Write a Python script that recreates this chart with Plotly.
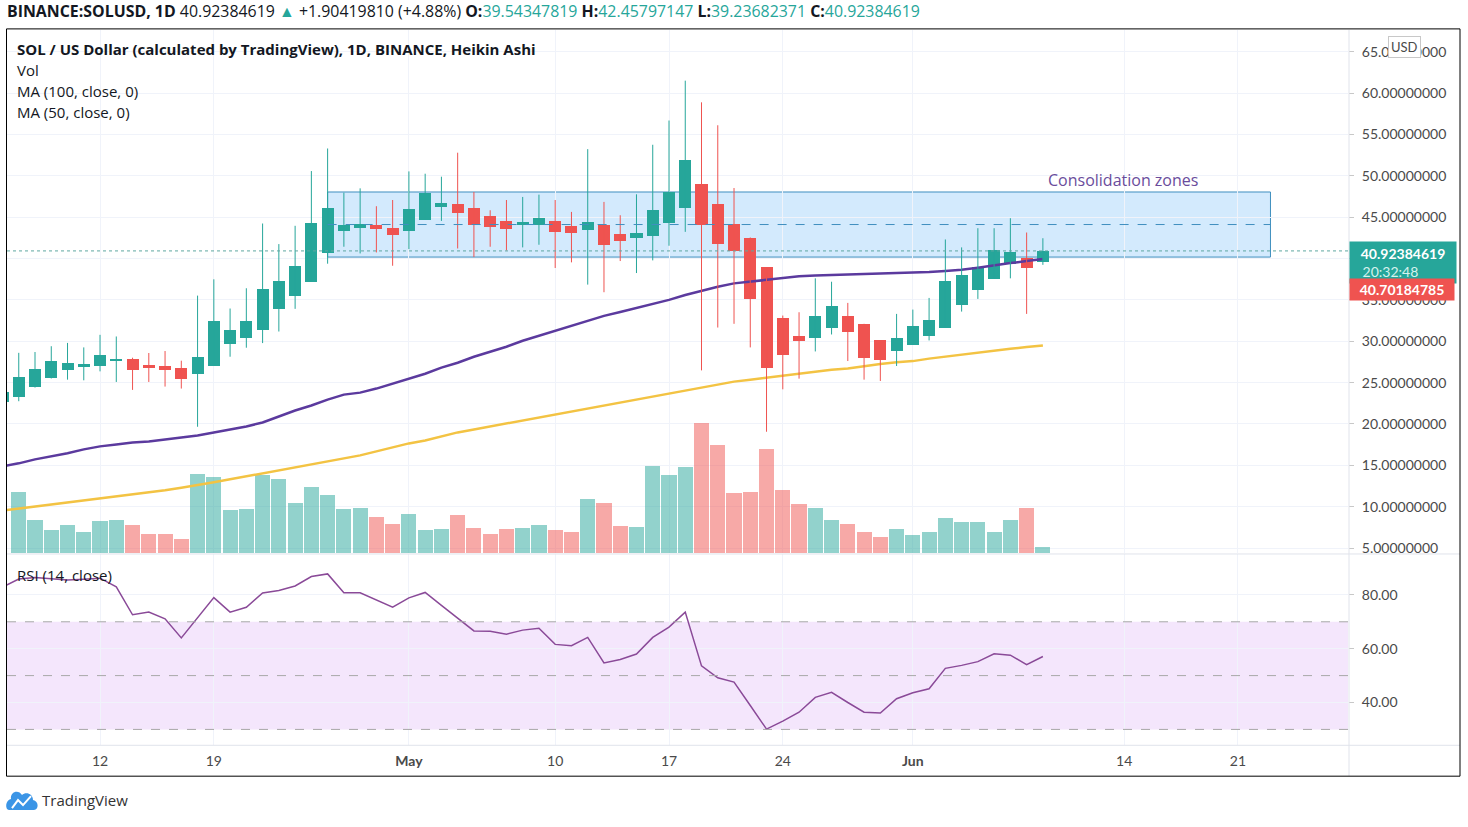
import plotly.graph_objects as go
import pandas as pd

W, H = 1468, 827

# daily Heikin Ashi candles, 2021-04-06 .. 2021-06-09
dates = pd.date_range("2021-04-06", "2021-06-09", freq="D")

ha_open = [22.70, 23.23, 24.44, 25.52, 26.48, 26.96, 27.08, 27.65, 27.89, 27.17,
           27.05, 26.81, 26.08, 27.08, 29.74, 30.46, 31.42, 33.92, 35.52, 37.20,
           40.70, 43.35, 43.71, 44.08, 43.76, 43.35, 44.72, 46.29, 46.57, 46.08,
           45.12, 44.52, 44.04, 44.12, 44.52, 43.92, 43.51, 44.08, 42.95, 42.50,
           42.75, 44.28, 46.16, 48.98, 46.57, 44.16, 42.55, 38.94, 32.80, 30.66,
           30.38, 31.66, 33.07, 32.11, 30.14, 28.89, 29.62, 30.70, 31.66, 34.40,
           36.24, 37.53, 39.30, 40.06, 39.54]
ha_high = [24.40, 28.60, 28.70, 29.40, 29.80, 29.26, 30.78, 30.58, 28.01, 28.58,
           28.82, 27.65, 35.52, 37.49, 33.96, 36.41, 44.24, 41.75, 43.96, 50.58,
           53.31, 47.97, 48.49, 46.33, 47.08, 50.54, 50.26, 49.90, 52.80, 48.05,
           45.84, 47.08, 47.45, 47.73, 47.08, 45.64, 53.23, 46.85, 45.24, 47.77,
           53.76, 56.69, 61.51, 58.89, 56.12, 48.53, 42.55, 38.94, 33.11, 33.51,
           37.61, 37.20, 34.64, 32.11, 30.14, 33.31, 33.83, 35.24, 42.31, 41.35,
           43.67, 43.67, 44.88, 43.15, 42.46]
ha_low = [22.30, 22.75, 24.40, 25.50, 25.36, 25.28, 26.36, 25.08, 24.12, 25.08,
          24.52, 24.28, 19.66, 27.08, 28.13, 29.22, 29.78, 31.18, 33.92, 37.20,
          39.38, 41.43, 40.62, 40.74, 39.13, 41.14, 44.72, 44.55, 41.22, 40.18,
          41.43, 40.98, 41.35, 41.67, 38.86, 39.54, 36.85, 35.93, 39.70, 38.25,
          39.78, 41.55, 43.23, 26.48, 31.66, 32.11, 29.26, 19.06, 24.19, 25.48,
          28.77, 30.82, 27.61, 25.36, 25.20, 27.01, 29.62, 30.10, 31.66, 33.59,
          35.12, 37.53, 37.61, 33.31, 39.24]
ha_close = [23.90, 25.72, 26.69, 27.65, 27.41, 27.25, 28.37, 27.89, 26.48, 26.81,
            26.48, 25.40, 28.13, 32.47, 31.39, 32.47, 36.33, 37.29, 39.10, 44.28,
            46.08, 44.12, 44.24, 43.59, 42.87, 46.04, 47.97, 46.77, 45.57, 44.04,
            43.88, 43.59, 44.40, 44.88, 43.23, 43.11, 44.44, 41.67, 42.11, 43.07,
            45.92, 48.01, 51.90, 44.08, 41.83, 40.94, 35.16, 26.77, 28.30, 30.10,
            33.03, 34.28, 31.18, 28.05, 27.77, 30.38, 31.87, 32.59, 37.29, 37.97,
            38.94, 41.02, 40.78, 38.90, 40.92]

# volume (millions, estimated)
volume_m = [None, 6.1, 3.3, 2.3, 2.8, 2.1, 3.2, 3.3, 2.8, 1.9,
            1.9, 1.4, 7.9, 7.6, 4.3, 4.4, 7.8, 7.4, 5.0, 6.6,
            5.8, 4.4, 4.5, 3.6, 2.9, 3.9, 2.3, 2.4, 3.8, 2.5,
            1.9, 2.4, 2.5, 2.8, 2.3, 2.1, 5.4, 5.0, 2.7, 2.6,
            8.7, 7.8, 8.6, 13.1, 10.8, 6.0, 6.1, 10.4, 6.3, 4.9,
            4.5, 3.3, 2.9, 2.1, 1.6, 2.4, 1.8, 2.1, 3.5, 3.1,
            3.1, 2.1, 3.3, 4.5, 0.6]

ma50 = [14.88, 15.24, 15.72, 16.08, 16.45, 16.93, 17.29, 17.53, 17.77, 17.89,
        18.13, 18.37, 18.61, 18.98, 19.34, 19.70, 20.18, 20.90, 21.63, 22.23,
        22.95, 23.55, 23.79, 24.28, 24.88, 25.48, 26.08, 26.81, 27.41, 28.13,
        28.73, 29.34, 30.06, 30.66, 31.27, 31.87, 32.47, 33.07, 33.55, 34.04,
        34.55, 35.00, 35.60, 36.10, 36.60, 37.00, 37.20, 37.41, 37.60, 37.85,
        37.95, 38.01, 38.05, 38.13, 38.18, 38.22, 38.25, 38.37, 38.50, 38.65,
        38.90, 39.20, 39.45, 39.70, 39.95]
ma100 = [9.52, 9.76, 10.06, 10.30, 10.54, 10.78, 11.02, 11.27, 11.51, 11.75,
         11.99, 12.29, 12.59, 12.95, 13.31, 13.67, 14.04, 14.40, 14.76, 15.12,
         15.48, 15.84, 16.20, 16.69, 17.17, 17.65, 18.01, 18.49, 18.98, 19.34,
         19.70, 20.06, 20.42, 20.78, 21.14, 21.51, 21.87, 22.23, 22.59, 22.95,
         23.31, 23.67, 24.04, 24.40, 24.76, 25.12, 25.36, 25.60, 25.84, 26.10,
         26.35, 26.55, 26.70, 27.00, 27.25, 27.45, 27.60, 27.90, 28.15, 28.40,
         28.65, 28.90, 29.10, 29.30, 29.50]
rsi14 = [82.9, 85.9, 86.5, 86.0, 85.5, 85.8, 86.2, 83.0, 72.6, 73.6,
         71.1, 64.0, 71.5, 79.0, 73.6, 75.4, 80.7, 81.6, 83.3, 86.8,
         87.8, 80.8, 80.8, 78.1, 75.4, 78.9, 80.9, 76.1, 71.5, 66.6,
         66.5, 65.4, 66.9, 67.6, 61.6, 61.1, 64.2, 54.7, 56.0, 58.0,
         64.2, 68.0, 73.6, 53.6, 49.2, 47.6, 38.9, 30.1, 33.1, 36.4,
         41.9, 43.8, 40.0, 36.4, 36.1, 41.4, 43.6, 45.1, 52.7, 53.8,
         55.2, 58.1, 57.6, 54.1, 57.1]

price_ticks = [5, 10, 15, 20, 25, 30, 35, 40, 45, 50, 55, 60, 65]
rsi_ticks = [40, 60, 80]
date_ticks = ["2021-04-12", "2021-04-19", "2021-05-01", "2021-05-10", "2021-05-17",
              "2021-05-24", "2021-06-01", "2021-06-14", "2021-06-21"]
date_labels = ["12", "19", "<b>May</b>", "10", "17", "24", "<b>Jun</b>", "14", "21"]

last_price = 40.92384619
real_price = 40.70184785
zone_start, zone_end = "2021-04-26", "2021-06-23"
zone_low, zone_high = 40.18, 48.05

UP, DOWN = "#26a69a", "#ef5350"
UP_VOL, DOWN_VOL = "rgba(38,166,154,0.5)", "rgba(239,83,80,0.5)"
GRID = "#f0f3fa"
SEP = "#e0e3eb"
TXT = "#131722"
AX = "#4a4a4a"
FONT = "Lato"
TFONT = "Open Sans"

DAY_MS = 86400000


def px(x):
    return x / W


def py(y):
    return 1 - y / H


up = [c >= o for o, c in zip(ha_open, ha_close)]

fig = go.Figure()

# volume (base axis, behind price)
fig.add_trace(go.Bar(x=dates, y=volume_m, xaxis="x", yaxis="y",
                     marker=dict(color=[UP_VOL if u else DOWN_VOL for u in up], line_width=0),
                     width=0.93 * DAY_MS, hoverinfo="skip"))

# moving averages
fig.add_trace(go.Scatter(x=dates, y=ma100, xaxis="x", yaxis="y2", mode="lines",
                         line=dict(color="#f3c343", width=2.5), hoverinfo="skip"))
fig.add_trace(go.Scatter(x=dates, y=ma50, xaxis="x", yaxis="y2", mode="lines",
                         line=dict(color="#5b3a9e", width=2.5), hoverinfo="skip"))

# candle wicks
for flag, col in [(True, UP), (False, DOWN)]:
    wx, wy = [], []
    for d, lo, hi, u in zip(dates, ha_low, ha_high, up):
        if u == flag:
            wx += [d, d, None]
            wy += [lo, hi, None]
    fig.add_trace(go.Scatter(x=wx, y=wy, xaxis="x", yaxis="y2", mode="lines",
                             line=dict(color=col, width=1), hoverinfo="skip"))

# candle bodies
fig.add_trace(go.Bar(x=dates, y=[c - o for o, c in zip(ha_open, ha_close)], base=ha_open,
                     xaxis="x", yaxis="y2", width=0.74 * DAY_MS,
                     marker=dict(color=[UP if u else DOWN for u in up], line_width=0),
                     hoverinfo="skip"))

# RSI
fig.add_trace(go.Scatter(x=dates, y=rsi14, xaxis="x2", yaxis="y3", mode="lines",
                         line=dict(color="#8a4a98", width=1.5), hoverinfo="skip"))

x_range = [pd.Timestamp("2021-04-12") - pd.Timedelta(days=93 / 16.25),
           pd.Timestamp("2021-06-01") + pd.Timedelta(days=435 / 16.25)]
dom_x = [px(7), px(1348)]

shapes = [
    # RSI band and levels
    dict(type="rect", xref="paper", yref="y3", x0=dom_x[0], x1=dom_x[1], y0=30, y1=70,
         fillcolor="#f4e6fc", line_width=0, layer="below"),
    # consolidation zone
    dict(type="rect", xref="x", yref="y2", x0=zone_start, x1=zone_end, y0=zone_low, y1=zone_high,
         fillcolor="rgba(33,150,243,0.2)", line=dict(color="#3f8fbf", width=1), layer="below"),
    dict(type="line", xref="x", yref="y2", x0=zone_start, x1=zone_end,
         y0=(zone_low + zone_high) / 2, y1=(zone_low + zone_high) / 2,
         line=dict(color="#3f8fbf", width=1, dash="dash")),
    # last price line
    dict(type="line", xref="paper", yref="y2", x0=dom_x[0], x1=dom_x[1], y0=last_price, y1=last_price,
         line=dict(color="#5fa8a0", width=1, dash="dot")),
    # separators
    dict(type="line", xref="paper", yref="paper", x0=px(7), x1=px(1460), y0=py(556), y1=py(556),
         line=dict(color=SEP, width=1)),
    dict(type="line", xref="paper", yref="paper", x0=px(7), x1=px(1460), y0=py(748), y1=py(748),
         line=dict(color=SEP, width=1)),
    dict(type="line", xref="paper", yref="paper", x0=px(1349), x1=px(1349), y0=py(30), y1=py(779),
         line=dict(color=SEP, width=1)),
    # outer frame
    dict(type="rect", xref="paper", yref="paper", x0=px(6.5), x1=px(1460), y0=py(29), y1=py(779),
         line=dict(color="#000000", width=1)),
]
for lvl in [70, 50, 30]:
    shapes.append(dict(type="line", xref="paper", yref="y3", x0=dom_x[0], x1=dom_x[1], y0=lvl, y1=lvl,
                       line=dict(color="#a8a8a8", width=1, dash="dash")))


def P(x, y):
    return f"{px(x):.5f},{py(y):.5f}"


# TradingView logo (cloud + zigzag)
cloud = ("M " + P(9, 813) + " L " + P(34, 813) + " C " + P(39, 813) + " " + P(39, 804) + " " + P(33, 803)
         + " C " + P(33, 797) + " " + P(26, 794) + " " + P(22, 798) + " C " + P(19, 792) + " " + P(10, 794)
         + " " + P(11, 802) + " C " + P(5, 803) + " " + P(5, 813) + " " + P(9, 813) + " Z")
shapes.append(dict(type="path", xref="paper", yref="paper", path=cloud, fillcolor="#3b95e6", line_width=0))
zig = "M " + P(12, 811) + " L " + P(18, 803) + " L " + P(23, 808) + " L " + P(31, 799)
shapes.append(dict(type="path", xref="paper", yref="paper", path=zig, line=dict(color="white", width=2)))

teal_v = "#26a69a"
header = ("<b>BINANCE:SOLUSD, 1D</b> 40.92384619 <span style='color:%s'>▲</span> +1.90419810 (+4.88%%) "
          "<b>O:</b><span style='color:%s'>39.54347819</span> <b>H:</b><span style='color:%s'>42.45797147</span> "
          "<b>L:</b><span style='color:%s'>39.23682371</span> <b>C:</b><span style='color:%s'>40.92384619</span>"
          % (teal_v, teal_v, teal_v, teal_v, teal_v))

annotations = [
    dict(xref="paper", yref="paper", x=px(5), y=py(11), text=header, showarrow=False,
         xanchor="left", yanchor="middle", font=dict(family=TFONT, size=15.9, color=TXT)),
    dict(xref="paper", yref="paper", x=px(15), y=py(49),
         text="<b>SOL / US Dollar (calculated by TradingView), 1D, BINANCE, Heikin Ashi</b>",
         showarrow=False, xanchor="left", yanchor="middle", font=dict(family=TFONT, size=15, color=TXT)),
    dict(xref="paper", yref="paper", x=px(15), y=py(70), text="Vol", showarrow=False,
         xanchor="left", yanchor="middle", font=dict(family=TFONT, size=15, color=TXT)),
    dict(xref="paper", yref="paper", x=px(15), y=py(91), text="MA (100, close, 0)", showarrow=False,
         xanchor="left", yanchor="middle", font=dict(family=TFONT, size=15, color=TXT)),
    dict(xref="paper", yref="paper", x=px(15), y=py(112), text="MA (50, close, 0)", showarrow=False,
         xanchor="left", yanchor="middle", font=dict(family=TFONT, size=15, color=TXT)),
    dict(xref="paper", yref="paper", x=px(15), y=py(577), text="RSI (14, close)", showarrow=False,
         xanchor="left", yanchor="middle", font=dict(family=TFONT, size=15, color=TXT)),
    dict(xref="x", yref="y2", x=pd.Timestamp("2021-06-13 22:00"), y=49.5, text="Consolidation zones",
         showarrow=False, xanchor="center", yanchor="middle", font=dict(family=TFONT, size=16, color="#6a4c9c")),
    dict(xref="paper", yref="y2", x=px(1349), y=last_price, yshift=10,
         text="<b>40.92384619</b><br><span style='color:#d6f2ee'>20:32:48" + "&nbsp;" * 7 + "</span>",
         showarrow=False, xanchor="left", yanchor="top", align="center", width=100, borderpad=3,
         bgcolor=UP, font=dict(size=14, color="white")),
    dict(xref="paper", yref="y2", x=px(1349), y=real_price, yshift=-37, text="<b>40.70184785</b>",
         showarrow=False, xanchor="left", yanchor="middle", align="center", width=100, borderpad=2,
         bgcolor=DOWN, font=dict(size=14, color="white")),
    dict(xref="paper", yref="paper", x=px(1404), y=py(47.5), text="USD", showarrow=False,
         xanchor="center", yanchor="middle", bgcolor="white", bordercolor="#c8c8c8", borderwidth=1,
         borderpad=2, font=dict(size=13, color=AX)),
    dict(xref="paper", yref="paper", x=px(40), y=py(803), text="TradingView", showarrow=False,
         xanchor="left", yanchor="middle", font=dict(family=TFONT, size=15, color="#333333")),
]

fig.update_layout(
    width=W, height=H, autosize=False,
    margin=dict(l=0, r=0, t=0, b=0, pad=0),
    paper_bgcolor="white", plot_bgcolor="white",
    font=dict(family=FONT, size=14, color=AX),
    showlegend=False, hovermode=False, barmode="overlay", bargap=0,
    xaxis=dict(domain=dom_x, anchor="y", range=x_range, type="date",
               tickvals=date_ticks, showticklabels=False, showgrid=True, gridcolor=GRID,
               zeroline=False, showline=False, fixedrange=True),
    yaxis=dict(domain=[py(555), py(30)], anchor="x", range=[0, 52.5], visible=False, fixedrange=True),
    yaxis2=dict(overlaying="y", anchor="x", side="right", range=[4.40, 67.65],
                tickvals=price_ticks, ticktext=[f"{v:.8f}" for v in price_ticks],
                showgrid=True, gridcolor=GRID, zeroline=False, ticks="outside", ticklen=5,
                tickcolor="#c8c8c8", ticklabelstandoff=5, tickfont=dict(size=14, color=AX),
                fixedrange=True),
    xaxis2=dict(domain=dom_x, anchor="y3", matches="x", type="date",
                tickvals=date_ticks, ticktext=date_labels, showgrid=True, gridcolor=GRID,
                zeroline=False, showline=False, ticks="", ticklabelstandoff=6,
                tickfont=dict(size=14, color=AX), fixedrange=True),
    yaxis3=dict(domain=[py(748), py(556)], anchor="x2", side="right", range=[24.1, 95.2],
                tickvals=rsi_ticks, ticktext=[f"{v:.2f}" for v in rsi_ticks],
                showgrid=True, gridcolor=GRID, zeroline=False, ticks="outside", ticklen=5,
                tickcolor="#c8c8c8", ticklabelstandoff=5, tickfont=dict(size=14, color=AX),
                fixedrange=True),
    shapes=shapes,
    annotations=annotations,
)

fig.write_html("out.html", config={"displayModeBar": False},
               post_script="document.body.style.margin='0';document.body.style.overflow='hidden';")
